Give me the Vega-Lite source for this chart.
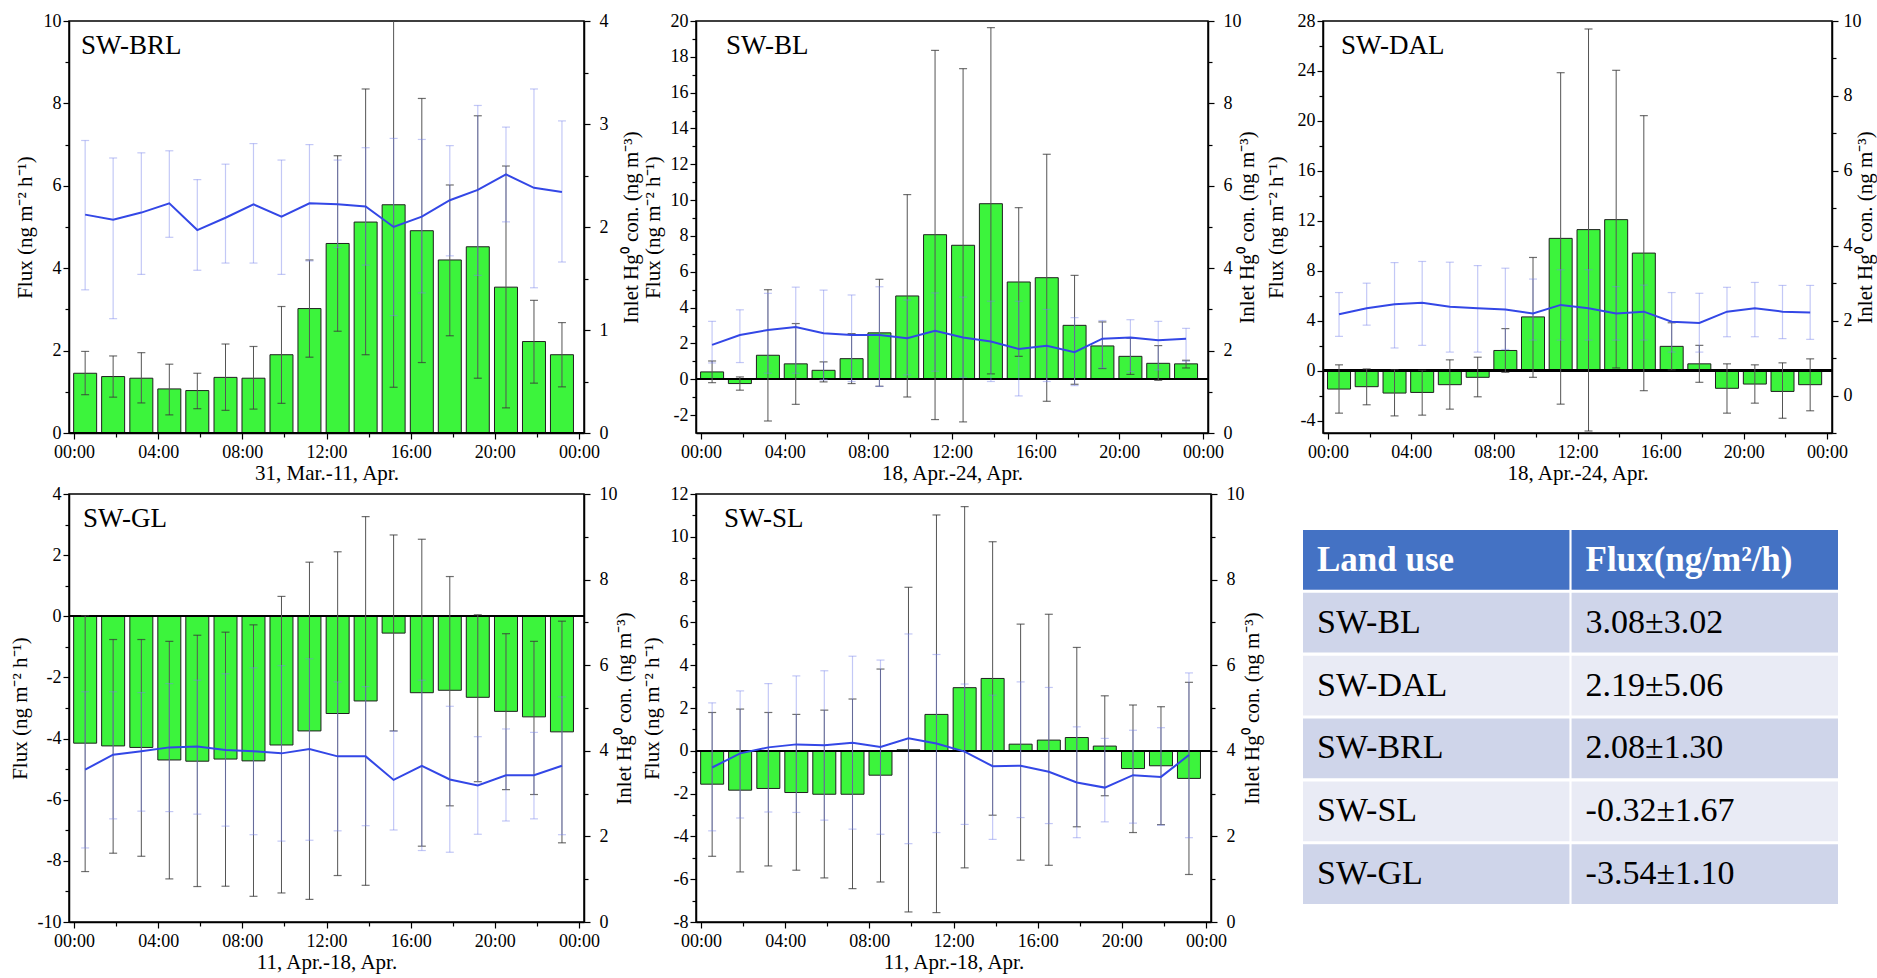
{
"$schema": "https://vega.github.io/schema/vega-lite/v6.json",
"background": "white",
"padding": {"left": 8, "top": 11, "right": 5, "bottom": 5},
"columns": 3,
"spacing": {"row": 61, "column": 112},
"bounds": "flush",
"align": "each",
"datasets": {
"d": [
{"p":"BRL","t":0.53,"f":1.45,"lo":0.93,"hi":1.98,"h":2.12,"hl":1.39,"hh":2.84},
{"p":"BRL","t":1.86,"f":1.37,"lo":0.87,"hi":1.87,"h":2.07,"hl":1.11,"hh":2.67},
{"p":"BRL","t":3.2,"f":1.33,"lo":0.73,"hi":1.95,"h":2.14,"hl":1.54,"hh":2.72},
{"p":"BRL","t":4.53,"f":1.07,"lo":0.44,"hi":1.67,"h":2.23,"hl":1.90,"hh":2.74},
{"p":"BRL","t":5.86,"f":1.03,"lo":0.59,"hi":1.45,"h":1.97,"hl":1.58,"hh":2.46},
{"p":"BRL","t":7.2,"f":1.35,"lo":0.55,"hi":2.16,"h":2.09,"hl":1.65,"hh":2.61},
{"p":"BRL","t":8.53,"f":1.33,"lo":0.58,"hi":2.10,"h":2.22,"hl":1.65,"hh":2.81},
{"p":"BRL","t":9.86,"f":1.90,"lo":0.72,"hi":3.07,"h":2.10,"hl":1.54,"hh":2.65},
{"p":"BRL","t":11.19,"f":3.02,"lo":1.84,"hi":4.20,"h":2.23,"hl":1.67,"hh":2.80},
{"p":"BRL","t":12.53,"f":4.60,"lo":2.47,"hi":6.73,"h":2.22,"hl":1.80,"hh":2.65},
{"p":"BRL","t":13.86,"f":5.12,"lo":1.90,"hi":8.35,"h":2.20,"hl":1.63,"hh":2.77},
{"p":"BRL","t":15.19,"f":5.54,"lo":1.11,"hi":10.0,"h":2.00,"hl":1.14,"hh":2.86},
{"p":"BRL","t":16.53,"f":4.91,"lo":1.71,"hi":8.12,"h":2.10,"hl":1.36,"hh":2.85},
{"p":"BRL","t":17.86,"f":4.20,"lo":2.36,"hi":6.02,"h":2.26,"hl":1.72,"hh":2.79},
{"p":"BRL","t":19.19,"f":4.52,"lo":1.33,"hi":7.70,"h":2.36,"hl":1.53,"hh":3.18},
{"p":"BRL","t":20.53,"f":3.54,"lo":0.61,"hi":6.48,"h":2.51,"hl":2.05,"hh":2.97},
{"p":"BRL","t":21.86,"f":2.22,"lo":1.21,"hi":3.22,"h":2.38,"hl":1.41,"hh":3.34},
{"p":"BRL","t":23.19,"f":1.90,"lo":1.12,"hi":2.68,"h":2.34,"hl":1.66,"hh":3.03},
{"p":"BL","t":0.53,"f":0.41,"lo":-0.19,"hi":1.02,"h":2.14,"hl":1.70,"hh":2.71},
{"p":"BL","t":1.86,"f":-0.24,"lo":-0.61,"hi":0.13,"h":2.38,"hl":1.71,"hh":2.99},
{"p":"BL","t":3.2,"f":1.34,"lo":-2.33,"hi":5.00,"h":2.50,"hl":1.45,"hh":3.39},
{"p":"BL","t":4.53,"f":0.86,"lo":-1.40,"hi":3.11,"h":2.57,"hl":1.45,"hh":3.54},
{"p":"BL","t":5.86,"f":0.50,"lo":-0.15,"hi":0.97,"h":2.42,"hl":1.29,"hh":3.47},
{"p":"BL","t":7.2,"f":1.15,"lo":-0.24,"hi":2.55,"h":2.38,"hl":1.25,"hh":3.35},
{"p":"BL","t":8.53,"f":2.59,"lo":-0.39,"hi":5.58,"h":2.38,"hl":1.13,"hh":3.55},
{"p":"BL","t":9.86,"f":4.65,"lo":-0.99,"hi":10.31,"h":2.30,"hl":1.41,"hh":3.23},
{"p":"BL","t":11.19,"f":8.07,"lo":-2.25,"hi":18.36,"h":2.48,"hl":1.50,"hh":3.40},
{"p":"BL","t":12.53,"f":7.48,"lo":-2.38,"hi":17.34,"h":2.32,"hl":1.35,"hh":3.30},
{"p":"BL","t":13.86,"f":9.80,"lo":0.30,"hi":19.63,"h":2.22,"hl":1.25,"hh":3.20},
{"p":"BL","t":15.19,"f":5.43,"lo":1.28,"hi":9.58,"h":2.04,"hl":0.90,"hh":3.20},
{"p":"BL","t":16.53,"f":5.67,"lo":-1.23,"hi":12.56,"h":2.12,"hl":1.25,"hh":3.00},
{"p":"BL","t":17.86,"f":3.01,"lo":-0.28,"hi":5.80,"h":1.96,"hl":1.15,"hh":2.80},
{"p":"BL","t":19.19,"f":1.86,"lo":0.60,"hi":3.20,"h":2.29,"hl":1.58,"hh":2.73},
{"p":"BL","t":20.53,"f":1.28,"lo":0.27,"hi":2.30,"h":2.32,"hl":1.49,"hh":2.75},
{"p":"BL","t":21.86,"f":0.89,"lo":-0.06,"hi":1.88,"h":2.25,"hl":1.53,"hh":2.71},
{"p":"BL","t":23.19,"f":0.86,"lo":0.63,"hi":1.06,"h":2.29,"hl":1.74,"hh":2.54},
{"p":"DAL","t":0.53,"f":-1.48,"lo":-3.41,"hi":0.46,"h":2.17,"hl":1.58,"hh":2.75},
{"p":"DAL","t":1.86,"f":-1.29,"lo":-2.74,"hi":0.13,"h":2.33,"hl":1.88,"hh":3.00},
{"p":"DAL","t":3.2,"f":-1.80,"lo":-3.63,"hi":0.08,"h":2.44,"hl":1.27,"hh":3.55},
{"p":"DAL","t":4.53,"f":-1.75,"lo":-3.57,"hi":0.02,"h":2.48,"hl":1.34,"hh":3.58},
{"p":"DAL","t":5.86,"f":-1.13,"lo":-3.09,"hi":0.86,"h":2.37,"hl":1.16,"hh":3.56},
{"p":"DAL","t":7.2,"f":-0.54,"lo":-2.10,"hi":1.07,"h":2.33,"hl":1.16,"hh":3.47},
{"p":"DAL","t":8.53,"f":1.61,"lo":-0.14,"hi":3.36,"h":2.30,"hl":1.23,"hh":3.40},
{"p":"DAL","t":9.86,"f":4.30,"lo":-0.54,"hi":9.06,"h":2.19,"hl":1.48,"hh":3.11},
{"p":"DAL","t":11.19,"f":10.59,"lo":-2.69,"hi":23.86,"h":2.42,"hl":1.48,"hh":3.36},
{"p":"DAL","t":12.53,"f":11.29,"lo":-4.84,"hi":27.36,"h":2.33,"hl":1.48,"hh":3.36},
{"p":"DAL","t":13.86,"f":12.09,"lo":0.21,"hi":24.05,"h":2.19,"hl":1.48,"hh":2.91},
{"p":"DAL","t":15.19,"f":9.41,"lo":-1.61,"hi":20.42,"h":2.24,"hl":1.48,"hh":2.95},
{"p":"DAL","t":16.53,"f":1.94,"lo":0.05,"hi":3.83,"h":1.97,"hl":1.16,"hh":2.75},
{"p":"DAL","t":17.86,"f":0.54,"lo":-0.94,"hi":2.02,"h":1.94,"hl":1.16,"hh":2.73},
{"p":"DAL","t":19.19,"f":-1.42,"lo":-3.41,"hi":0.54,"h":2.24,"hl":1.57,"hh":2.89},
{"p":"DAL","t":20.53,"f":-1.08,"lo":-2.61,"hi":0.46,"h":2.33,"hl":1.57,"hh":3.02},
{"p":"DAL","t":21.86,"f":-1.67,"lo":-3.82,"hi":0.62,"h":2.24,"hl":1.52,"hh":2.94},
{"p":"DAL","t":23.19,"f":-1.13,"lo":-3.22,"hi":0.94,"h":2.22,"hl":1.50,"hh":2.94},
{"p":"GL","t":0.53,"f":-4.15,"lo":-8.35,"hi":0.02,"h":3.56,"hl":1.73,"hh":5.38},
{"p":"GL","t":1.86,"f":-4.24,"lo":-7.75,"hi":-0.76,"h":3.91,"hl":2.41,"hh":5.38},
{"p":"GL","t":3.2,"f":-4.29,"lo":-7.85,"hi":-0.76,"h":3.99,"hl":2.59,"hh":5.36},
{"p":"GL","t":4.53,"f":-4.70,"lo":-8.59,"hi":-0.82,"h":4.08,"hl":2.58,"hh":5.57},
{"p":"GL","t":5.86,"f":-4.74,"lo":-8.84,"hi":-0.62,"h":4.10,"hl":2.52,"hh":5.65},
{"p":"GL","t":7.2,"f":-4.67,"lo":-8.83,"hi":-0.52,"h":4.02,"hl":2.24,"hh":5.80},
{"p":"GL","t":8.53,"f":-4.73,"lo":-9.16,"hi":-0.28,"h":3.99,"hl":2.04,"hh":5.94},
{"p":"GL","t":9.86,"f":-4.21,"lo":-9.05,"hi":0.65,"h":3.94,"hl":1.89,"hh":5.99},
{"p":"GL","t":11.19,"f":-3.75,"lo":-9.26,"hi":1.77,"h":4.04,"hl":1.91,"hh":6.15},
{"p":"GL","t":12.53,"f":-3.18,"lo":-8.48,"hi":2.11,"h":3.87,"hl":2.13,"hh":5.61},
{"p":"GL","t":13.86,"f":-2.77,"lo":-8.80,"hi":3.26,"h":3.87,"hl":2.25,"hh":5.50},
{"p":"GL","t":15.19,"f":-0.55,"lo":-3.75,"hi":2.66,"h":3.32,"hl":2.15,"hh":4.46},
{"p":"GL","t":16.53,"f":-2.50,"lo":-7.52,"hi":2.52,"h":3.65,"hl":1.67,"hh":5.65},
{"p":"GL","t":17.86,"f":-2.42,"lo":-6.20,"hi":1.30,"h":3.33,"hl":1.63,"hh":5.04},
{"p":"GL","t":19.19,"f":-2.65,"lo":-5.41,"hi":0.05,"h":3.19,"hl":2.05,"hh":4.33},
{"p":"GL","t":20.53,"f":-3.11,"lo":-5.67,"hi":-0.57,"h":3.43,"hl":2.36,"hh":4.51},
{"p":"GL","t":21.86,"f":-3.29,"lo":-5.83,"hi":-0.82,"h":3.43,"hl":2.41,"hh":4.43},
{"p":"GL","t":23.19,"f":-3.78,"lo":-7.41,"hi":-0.16,"h":3.65,"hl":2.04,"hh":5.26},
{"p":"SL","t":0.53,"f":-1.56,"lo":-4.93,"hi":1.79,"h":3.61,"hl":2.13,"hh":5.12},
{"p":"SL","t":1.86,"f":-1.84,"lo":-5.66,"hi":1.95,"h":3.94,"hl":2.43,"hh":5.40},
{"p":"SL","t":3.2,"f":-1.76,"lo":-5.38,"hi":1.79,"h":4.08,"hl":2.57,"hh":5.57},
{"p":"SL","t":4.53,"f":-1.95,"lo":-5.58,"hi":1.70,"h":4.15,"hl":2.56,"hh":5.75},
{"p":"SL","t":5.86,"f":-2.03,"lo":-5.94,"hi":1.90,"h":4.13,"hl":2.38,"hh":5.87},
{"p":"SL","t":7.2,"f":-2.03,"lo":-6.44,"hi":2.42,"h":4.19,"hl":2.17,"hh":6.21},
{"p":"SL","t":8.53,"f":-1.14,"lo":-6.13,"hi":3.82,"h":4.09,"hl":2.05,"hh":6.12},
{"p":"SL","t":9.86,"f":0.05,"lo":-7.53,"hi":7.64,"h":4.29,"hl":1.83,"hh":6.73},
{"p":"SL","t":11.19,"f":1.70,"lo":-7.56,"hi":11.02,"h":4.17,"hl":2.09,"hh":6.25},
{"p":"SL","t":12.53,"f":2.95,"lo":-5.47,"hi":11.41,"h":3.98,"hl":2.28,"hh":5.56},
{"p":"SL","t":13.86,"f":3.38,"lo":-3.01,"hi":9.77,"h":3.64,"hl":1.93,"hh":5.30},
{"p":"SL","t":15.19,"f":0.31,"lo":-5.11,"hi":5.92,"h":3.65,"hl":2.44,"hh":5.61},
{"p":"SL","t":16.53,"f":0.50,"lo":-5.35,"hi":6.38,"h":3.51,"hl":2.30,"hh":5.48},
{"p":"SL","t":17.86,"f":0.62,"lo":-3.55,"hi":4.83,"h":3.26,"hl":1.97,"hh":4.56},
{"p":"SL","t":19.19,"f":0.22,"lo":-2.10,"hi":2.57,"h":3.14,"hl":2.34,"hh":4.29},
{"p":"SL","t":20.53,"f":-0.83,"lo":-3.82,"hi":2.14,"h":3.43,"hl":2.31,"hh":4.48},
{"p":"SL","t":21.86,"f":-0.70,"lo":-3.45,"hi":2.06,"h":3.39,"hl":2.26,"hh":4.54},
{"p":"SL","t":23.19,"f":-1.29,"lo":-5.78,"hi":3.20,"h":3.90,"hl":1.97,"hh":5.82}
],
"tbl": [
{"r":0,"c":0,"s":"Land use","k":"h"},
{"r":0,"c":1,"s":"Flux(ng/m²/h)","k":"h"},
{"r":1,"c":0,"s":"SW-BL","k":"d"},
{"r":1,"c":1,"s":"3.08±3.02","k":"d"},
{"r":2,"c":0,"s":"SW-DAL","k":"l"},
{"r":2,"c":1,"s":"2.19±5.06","k":"l"},
{"r":3,"c":0,"s":"SW-BRL","k":"d"},
{"r":3,"c":1,"s":"2.08±1.30","k":"d"},
{"r":4,"c":0,"s":"SW-SL","k":"l"},
{"r":4,"c":1,"s":"-0.32±1.67","k":"l"},
{"r":5,"c":0,"s":"SW-GL","k":"d"},
{"r":5,"c":1,"s":"-3.54±1.10","k":"d"}
]
},
"concat": [
{
"width": 515, "height": 412,
"title": {"text": "SW-BRL", "dx": 12},
"data": {"name": "d"},
"transform": [{"filter": "datum.p === 'BRL'"}],
"layer": [
{"layer": [
{"mark": {"type": "bar", "size": 23, "fill": "#3CF43C", "stroke": "#1f1f1f", "strokeWidth": 1},
"encoding": {
"x": {"field": "t", "type": "quantitative", "scale": {"domain": [0, 24], "nice": false, "zero": false}, "axis": {"title": "31, Mar.-11, Apr.", "tickCount": 100, "labelOverlap": false, "values": [0,2,4,6,8,10,12,14,16,18,20,22,24], "labelExpr": "datum.value % 4 === 0 ? ((datum.value % 24) < 10 ? '0' : '') + (datum.value % 24) + ':00' : ''", "tickSize": {"condition": {"test": "datum.value % 4 === 0", "value": 6}, "value": 4}, "labelPadding": 4, "titlePadding": 1}},
"y": {"field": "f", "type": "quantitative", "scale": {"domain": [0, 10], "nice": false, "zero": false}, "axis": {"orient": "left", "title": "Flux (ng m⁻² h⁻¹)", "tickCount": 100, "labelOverlap": false, "values": [0,1,2,3,4,5,6,7,8,9,10], "labelExpr": "datum.value % 2 === 0 ? '' + datum.value : ''", "tickSize": {"condition": {"test": "datum.value % 2 === 0", "value": 6}, "value": 4}, "labelPadding": 2, "titlePadding": 8}},
"y2": {"datum": 0}}},
{"mark": {"type": "rule", "color": "black", "strokeWidth": 1.5}, "encoding": {"y": {"datum": 0}}},
{"mark": {"type": "rule", "color": "#555555", "strokeWidth": 1}, "encoding": {"x": {"field": "t", "type": "quantitative"}, "y": {"field": "lo", "type": "quantitative"}, "y2": {"field": "hi"}}},
{"mark": {"type": "tick", "orient": "horizontal", "size": 8, "thickness": 1.2, "color": "#333333"}, "encoding": {"x": {"field": "t", "type": "quantitative"}, "y": {"field": "lo", "type": "quantitative"}}},
{"mark": {"type": "tick", "orient": "horizontal", "size": 8, "thickness": 1.2, "color": "#333333"}, "encoding": {"x": {"field": "t", "type": "quantitative"}, "y": {"field": "hi", "type": "quantitative"}}}
]},
{"layer": [
{"mark": {"type": "rule", "color": "#7A84EA", "opacity": 0.45, "strokeWidth": 1.2}, "encoding": {"x": {"field": "t", "type": "quantitative"}, "y": {"field": "hl", "type": "quantitative", "scale": {"domain": [0, 4], "nice": false, "zero": false}, "axis": {"orient": "right", "title": "Inlet Hg⁰ con. (ng m⁻³)", "tickCount": 100, "labelOverlap": false, "titleAngle": 270, "titleBaseline": "top", "values": [0,0.5,1,1.5,2,2.5,3,3.5,4], "labelExpr": "datum.value % 1 === 0 ? '' + datum.value : ''", "tickSize": {"condition": {"test": "datum.value % 1 === 0", "value": 6}, "value": 4}, "labelPadding": 9, "titlePadding": 12}}, "y2": {"field": "hh"}}},
{"mark": {"type": "tick", "orient": "horizontal", "size": 8, "thickness": 1.2, "color": "#7A84EA", "opacity": 0.45}, "encoding": {"x": {"field": "t", "type": "quantitative"}, "y": {"field": "hl", "type": "quantitative"}}},
{"mark": {"type": "tick", "orient": "horizontal", "size": 8, "thickness": 1.2, "color": "#7A84EA", "opacity": 0.45}, "encoding": {"x": {"field": "t", "type": "quantitative"}, "y": {"field": "hh", "type": "quantitative"}}},
{"mark": {"type": "line", "color": "#3347E6", "strokeWidth": 2}, "encoding": {"x": {"field": "t", "type": "quantitative"}, "y": {"field": "h", "type": "quantitative"}}}
]}
],
"resolve": {"scale": {"y": "independent"}}
},
{
"width": 512, "height": 412,
"title": {"text": "SW-BL", "dx": 30},
"data": {"name": "d"},
"transform": [{"filter": "datum.p === 'BL'"}],
"layer": [
{"layer": [
{"mark": {"type": "bar", "size": 23, "fill": "#3CF43C", "stroke": "#1f1f1f", "strokeWidth": 1},
"encoding": {
"x": {"field": "t", "type": "quantitative", "scale": {"domain": [0, 24], "nice": false, "zero": false}, "axis": {"title": "18, Apr.-24, Apr.", "tickCount": 100, "labelOverlap": false, "values": [0,2,4,6,8,10,12,14,16,18,20,22,24], "labelExpr": "datum.value % 4 === 0 ? ((datum.value % 24) < 10 ? '0' : '') + (datum.value % 24) + ':00' : ''", "tickSize": {"condition": {"test": "datum.value % 4 === 0", "value": 6}, "value": 4}, "labelPadding": 4, "titlePadding": 1}},
"y": {"field": "f", "type": "quantitative", "scale": {"domain": [-3, 20], "nice": false, "zero": false}, "axis": {"orient": "left", "title": "Flux (ng m⁻² h⁻¹)", "tickCount": 100, "labelOverlap": false, "values": [-2,-1,0,1,2,3,4,5,6,7,8,9,10,11,12,13,14,15,16,17,18,19,20], "labelExpr": "datum.value % 2 === 0 ? '' + datum.value : ''", "tickSize": {"condition": {"test": "datum.value % 2 === 0", "value": 6}, "value": 4}, "labelPadding": 2, "titlePadding": 7}},
"y2": {"datum": 0}}},
{"mark": {"type": "rule", "color": "black", "strokeWidth": 1.5}, "encoding": {"y": {"datum": 0}}},
{"mark": {"type": "rule", "color": "#555555", "strokeWidth": 1}, "encoding": {"x": {"field": "t", "type": "quantitative"}, "y": {"field": "lo", "type": "quantitative"}, "y2": {"field": "hi"}}},
{"mark": {"type": "tick", "orient": "horizontal", "size": 8, "thickness": 1.2, "color": "#333333"}, "encoding": {"x": {"field": "t", "type": "quantitative"}, "y": {"field": "lo", "type": "quantitative"}}},
{"mark": {"type": "tick", "orient": "horizontal", "size": 8, "thickness": 1.2, "color": "#333333"}, "encoding": {"x": {"field": "t", "type": "quantitative"}, "y": {"field": "hi", "type": "quantitative"}}}
]},
{"layer": [
{"mark": {"type": "rule", "color": "#7A84EA", "opacity": 0.45, "strokeWidth": 1.2}, "encoding": {"x": {"field": "t", "type": "quantitative"}, "y": {"field": "hl", "type": "quantitative", "scale": {"domain": [0, 10], "nice": false, "zero": false}, "axis": {"orient": "right", "title": "Inlet Hg⁰ con. (ng m⁻³)", "tickCount": 100, "labelOverlap": false, "titleAngle": 270, "titleBaseline": "top", "values": [0,1,2,3,4,5,6,7,8,9,10], "labelExpr": "datum.value % 2 === 0 ? '' + datum.value : ''", "tickSize": {"condition": {"test": "datum.value % 2 === 0", "value": 6}, "value": 4}, "labelPadding": 9, "titlePadding": -5}}, "y2": {"field": "hh"}}},
{"mark": {"type": "tick", "orient": "horizontal", "size": 8, "thickness": 1.2, "color": "#7A84EA", "opacity": 0.45}, "encoding": {"x": {"field": "t", "type": "quantitative"}, "y": {"field": "hl", "type": "quantitative"}}},
{"mark": {"type": "tick", "orient": "horizontal", "size": 8, "thickness": 1.2, "color": "#7A84EA", "opacity": 0.45}, "encoding": {"x": {"field": "t", "type": "quantitative"}, "y": {"field": "hh", "type": "quantitative"}}},
{"mark": {"type": "line", "color": "#3347E6", "strokeWidth": 2}, "encoding": {"x": {"field": "t", "type": "quantitative"}, "y": {"field": "h", "type": "quantitative"}}}
]}
],
"resolve": {"scale": {"y": "independent"}}
},
{
"width": 509, "height": 412,
"title": {"text": "SW-DAL", "dx": 18},
"data": {"name": "d"},
"transform": [{"filter": "datum.p === 'DAL'"}],
"layer": [
{"layer": [
{"mark": {"type": "bar", "size": 23, "fill": "#3CF43C", "stroke": "#1f1f1f", "strokeWidth": 1},
"encoding": {
"x": {"field": "t", "type": "quantitative", "scale": {"domain": [0, 24], "nice": false, "zero": false}, "axis": {"title": "18, Apr.-24, Apr.", "tickCount": 100, "labelOverlap": false, "values": [0,2,4,6,8,10,12,14,16,18,20,22,24], "labelExpr": "datum.value % 4 === 0 ? ((datum.value % 24) < 10 ? '0' : '') + (datum.value % 24) + ':00' : ''", "tickSize": {"condition": {"test": "datum.value % 4 === 0", "value": 6}, "value": 4}, "labelPadding": 4, "titlePadding": 1}},
"y": {"field": "f", "type": "quantitative", "scale": {"domain": [-5, 28], "nice": false, "zero": false}, "axis": {"orient": "left", "title": "Flux (ng m⁻² h⁻¹)", "tickCount": 100, "labelOverlap": false, "values": [-4,-2,0,2,4,6,8,10,12,14,16,18,20,22,24,26,28], "labelExpr": "datum.value % 4 === 0 ? '' + datum.value : ''", "tickSize": {"condition": {"test": "datum.value % 4 === 0", "value": 6}, "value": 4}, "labelPadding": 2, "titlePadding": 11}},
"y2": {"datum": 0}}},
{"mark": {"type": "rule", "color": "black", "strokeWidth": 1.5}, "encoding": {"y": {"datum": 0}}},
{"mark": {"type": "rule", "color": "#555555", "strokeWidth": 1}, "encoding": {"x": {"field": "t", "type": "quantitative"}, "y": {"field": "lo", "type": "quantitative"}, "y2": {"field": "hi"}}},
{"mark": {"type": "tick", "orient": "horizontal", "size": 8, "thickness": 1.2, "color": "#333333"}, "encoding": {"x": {"field": "t", "type": "quantitative"}, "y": {"field": "lo", "type": "quantitative"}}},
{"mark": {"type": "tick", "orient": "horizontal", "size": 8, "thickness": 1.2, "color": "#333333"}, "encoding": {"x": {"field": "t", "type": "quantitative"}, "y": {"field": "hi", "type": "quantitative"}}}
]},
{"layer": [
{"mark": {"type": "rule", "color": "#7A84EA", "opacity": 0.45, "strokeWidth": 1.2}, "encoding": {"x": {"field": "t", "type": "quantitative"}, "y": {"field": "hl", "type": "quantitative", "scale": {"domain": [-1, 10], "nice": false, "zero": false}, "axis": {"orient": "right", "title": "Inlet Hg⁰ con. (ng m⁻³)", "tickCount": 100, "labelOverlap": false, "titleAngle": 270, "titleBaseline": "top", "values": [-1,0,1,2,3,4,5,6,7,8,9,10], "labelExpr": "datum.value % 2 === 0 ? '' + datum.value : ''", "tickSize": {"condition": {"test": "datum.value % 2 === 0", "value": 6}, "value": 4}, "labelPadding": 5, "titlePadding": -7}}, "y2": {"field": "hh"}}},
{"mark": {"type": "tick", "orient": "horizontal", "size": 8, "thickness": 1.2, "color": "#7A84EA", "opacity": 0.45}, "encoding": {"x": {"field": "t", "type": "quantitative"}, "y": {"field": "hl", "type": "quantitative"}}},
{"mark": {"type": "tick", "orient": "horizontal", "size": 8, "thickness": 1.2, "color": "#7A84EA", "opacity": 0.45}, "encoding": {"x": {"field": "t", "type": "quantitative"}, "y": {"field": "hh", "type": "quantitative"}}},
{"mark": {"type": "line", "color": "#3347E6", "strokeWidth": 2}, "encoding": {"x": {"field": "t", "type": "quantitative"}, "y": {"field": "h", "type": "quantitative"}}}
]}
],
"resolve": {"scale": {"y": "independent"}}
},
{
"width": 515, "height": 428,
"title": {"text": "SW-GL", "dx": 14},
"data": {"name": "d"},
"transform": [{"filter": "datum.p === 'GL'"}],
"layer": [
{"layer": [
{"mark": {"type": "bar", "size": 23, "fill": "#3CF43C", "stroke": "#1f1f1f", "strokeWidth": 1},
"encoding": {
"x": {"field": "t", "type": "quantitative", "scale": {"domain": [0, 24], "nice": false, "zero": false}, "axis": {"title": "11, Apr.-18, Apr.", "tickCount": 100, "labelOverlap": false, "values": [0,2,4,6,8,10,12,14,16,18,20,22,24], "labelExpr": "datum.value % 4 === 0 ? ((datum.value % 24) < 10 ? '0' : '') + (datum.value % 24) + ':00' : ''", "tickSize": {"condition": {"test": "datum.value % 4 === 0", "value": 6}, "value": 4}, "labelPadding": 4, "titlePadding": 1}},
"y": {"field": "f", "type": "quantitative", "scale": {"domain": [-10, 4], "nice": false, "zero": false}, "axis": {"orient": "left", "title": "Flux (ng m⁻² h⁻¹)", "tickCount": 100, "labelOverlap": false, "values": [-10,-9,-8,-7,-6,-5,-4,-3,-2,-1,0,1,2,3,4], "labelExpr": "datum.value % 2 === 0 ? '' + datum.value : ''", "tickSize": {"condition": {"test": "datum.value % 2 === 0", "value": 6}, "value": 4}, "labelPadding": 2, "titlePadding": 7}},
"y2": {"datum": 0}}},
{"mark": {"type": "rule", "color": "black", "strokeWidth": 1.5}, "encoding": {"y": {"datum": 0}}},
{"mark": {"type": "rule", "color": "#555555", "strokeWidth": 1}, "encoding": {"x": {"field": "t", "type": "quantitative"}, "y": {"field": "lo", "type": "quantitative"}, "y2": {"field": "hi"}}},
{"mark": {"type": "tick", "orient": "horizontal", "size": 8, "thickness": 1.2, "color": "#333333"}, "encoding": {"x": {"field": "t", "type": "quantitative"}, "y": {"field": "lo", "type": "quantitative"}}},
{"mark": {"type": "tick", "orient": "horizontal", "size": 8, "thickness": 1.2, "color": "#333333"}, "encoding": {"x": {"field": "t", "type": "quantitative"}, "y": {"field": "hi", "type": "quantitative"}}}
]},
{"layer": [
{"mark": {"type": "rule", "color": "#7A84EA", "opacity": 0.45, "strokeWidth": 1.2}, "encoding": {"x": {"field": "t", "type": "quantitative"}, "y": {"field": "hl", "type": "quantitative", "scale": {"domain": [0, 10], "nice": false, "zero": false}, "axis": {"orient": "right", "title": "Inlet Hg⁰ con. (ng m⁻³)", "tickCount": 100, "labelOverlap": false, "titleAngle": 270, "titleBaseline": "top", "values": [0,1,2,3,4,5,6,7,8,9,10], "labelExpr": "datum.value % 2 === 0 ? '' + datum.value : ''", "tickSize": {"condition": {"test": "datum.value % 2 === 0", "value": 6}, "value": 4}, "labelPadding": 9, "titlePadding": -4}}, "y2": {"field": "hh"}}},
{"mark": {"type": "tick", "orient": "horizontal", "size": 8, "thickness": 1.2, "color": "#7A84EA", "opacity": 0.45}, "encoding": {"x": {"field": "t", "type": "quantitative"}, "y": {"field": "hl", "type": "quantitative"}}},
{"mark": {"type": "tick", "orient": "horizontal", "size": 8, "thickness": 1.2, "color": "#7A84EA", "opacity": 0.45}, "encoding": {"x": {"field": "t", "type": "quantitative"}, "y": {"field": "hh", "type": "quantitative"}}},
{"mark": {"type": "line", "color": "#3347E6", "strokeWidth": 2}, "encoding": {"x": {"field": "t", "type": "quantitative"}, "y": {"field": "h", "type": "quantitative"}}}
]}
],
"resolve": {"scale": {"y": "independent"}}
},
{
"width": 515, "height": 428,
"title": {"text": "SW-SL", "dx": 28},
"data": {"name": "d"},
"transform": [{"filter": "datum.p === 'SL'"}],
"layer": [
{"layer": [
{"mark": {"type": "bar", "size": 23, "fill": "#3CF43C", "stroke": "#1f1f1f", "strokeWidth": 1},
"encoding": {
"x": {"field": "t", "type": "quantitative", "scale": {"domain": [0, 24], "nice": false, "zero": false}, "axis": {"title": "11, Apr.-18, Apr.", "tickCount": 100, "labelOverlap": false, "values": [0,2,4,6,8,10,12,14,16,18,20,22,24], "labelExpr": "datum.value % 4 === 0 ? ((datum.value % 24) < 10 ? '0' : '') + (datum.value % 24) + ':00' : ''", "tickSize": {"condition": {"test": "datum.value % 4 === 0", "value": 6}, "value": 4}, "labelPadding": 4, "titlePadding": 1}},
"y": {"field": "f", "type": "quantitative", "scale": {"domain": [-8, 12], "nice": false, "zero": false}, "axis": {"orient": "left", "title": "Flux (ng m⁻² h⁻¹)", "tickCount": 100, "labelOverlap": false, "values": [-8,-7,-6,-5,-4,-3,-2,-1,0,1,2,3,4,5,6,7,8,9,10,11,12], "labelExpr": "datum.value % 2 === 0 ? '' + datum.value : ''", "tickSize": {"condition": {"test": "datum.value % 2 === 0", "value": 6}, "value": 4}, "labelPadding": 2, "titlePadding": 8}},
"y2": {"datum": 0}}},
{"mark": {"type": "rule", "color": "black", "strokeWidth": 1.5}, "encoding": {"y": {"datum": 0}}},
{"mark": {"type": "rule", "color": "#555555", "strokeWidth": 1}, "encoding": {"x": {"field": "t", "type": "quantitative"}, "y": {"field": "lo", "type": "quantitative"}, "y2": {"field": "hi"}}},
{"mark": {"type": "tick", "orient": "horizontal", "size": 8, "thickness": 1.2, "color": "#333333"}, "encoding": {"x": {"field": "t", "type": "quantitative"}, "y": {"field": "lo", "type": "quantitative"}}},
{"mark": {"type": "tick", "orient": "horizontal", "size": 8, "thickness": 1.2, "color": "#333333"}, "encoding": {"x": {"field": "t", "type": "quantitative"}, "y": {"field": "hi", "type": "quantitative"}}}
]},
{"layer": [
{"mark": {"type": "rule", "color": "#7A84EA", "opacity": 0.45, "strokeWidth": 1.2}, "encoding": {"x": {"field": "t", "type": "quantitative"}, "y": {"field": "hl", "type": "quantitative", "scale": {"domain": [0, 10], "nice": false, "zero": false}, "axis": {"orient": "right", "title": "Inlet Hg⁰ con. (ng m⁻³)", "tickCount": 100, "labelOverlap": false, "titleAngle": 270, "titleBaseline": "top", "values": [0,1,2,3,4,5,6,7,8,9,10], "labelExpr": "datum.value % 2 === 0 ? '' + datum.value : ''", "tickSize": {"condition": {"test": "datum.value % 2 === 0", "value": 6}, "value": 4}, "labelPadding": 9, "titlePadding": -3}}, "y2": {"field": "hh"}}},
{"mark": {"type": "tick", "orient": "horizontal", "size": 8, "thickness": 1.2, "color": "#7A84EA", "opacity": 0.45}, "encoding": {"x": {"field": "t", "type": "quantitative"}, "y": {"field": "hl", "type": "quantitative"}}},
{"mark": {"type": "tick", "orient": "horizontal", "size": 8, "thickness": 1.2, "color": "#7A84EA", "opacity": 0.45}, "encoding": {"x": {"field": "t", "type": "quantitative"}, "y": {"field": "hh", "type": "quantitative"}}},
{"mark": {"type": "line", "color": "#3347E6", "strokeWidth": 2}, "encoding": {"x": {"field": "t", "type": "quantitative"}, "y": {"field": "h", "type": "quantitative"}}}
]}
],
"resolve": {"scale": {"y": "independent"}}
},
{
"width": 509, "height": 428,
"data": {"name": "tbl"},
"view": {"stroke": null},
"layer": [
{"mark": {"type": "rect"}, "encoding": {
"x": {"field": "c", "type": "ordinal", "scale": {"range": [-20, 515], "paddingInner": 0.008, "paddingOuter": 0}, "axis": null},
"y": {"field": "r", "type": "ordinal", "scale": {"range": [36, 410], "paddingInner": 0.05, "paddingOuter": 0}, "axis": null},
"fill": {"field": "k", "type": "nominal", "scale": {"domain": ["h", "d", "l"], "range": ["#4472C4", "#CFD5EA", "#E9EBF5"]}, "legend": null}}},
{"transform": [{"filter": "datum.r === 0"}], "mark": {"type": "text", "align": "left", "baseline": "middle", "dx": 14, "font": "Liberation Serif", "fontSize": 35, "fontWeight": "bold", "color": "white"}, "encoding": {"x": {"field": "c", "type": "ordinal", "bandPosition": 0}, "y": {"field": "r", "type": "ordinal", "bandPosition": 0.5}, "text": {"field": "s"}}},
{"transform": [{"filter": "datum.r > 0"}], "mark": {"type": "text", "align": "left", "baseline": "middle", "dx": 14, "font": "Liberation Serif", "fontSize": 34, "fontWeight": "normal", "color": "black"}, "encoding": {"x": {"field": "c", "type": "ordinal", "bandPosition": 0}, "y": {"field": "r", "type": "ordinal", "bandPosition": 0.5}, "text": {"field": "s"}}}
]
}
],
"config": {
"font": "Liberation Serif",
"view": {"stroke": "black", "strokeWidth": 1.5},
"axis": {"grid": false, "domainColor": "black", "domainWidth": 1.5, "tickColor": "black", "tickWidth": 1.2, "labelFont": "Liberation Serif", "labelFontSize": 18, "labelColor": "black", "titleFont": "Liberation Serif", "titleFontSize": 21, "titleFontWeight": "normal", "titleColor": "black", "labelOverlap": false, "labelFlush": false, "labelBound": false},
"title": {"font": "Liberation Serif", "fontSize": 27, "fontWeight": "normal", "color": "black", "anchor": "start", "frame": "group", "offset": -48}
}
}
